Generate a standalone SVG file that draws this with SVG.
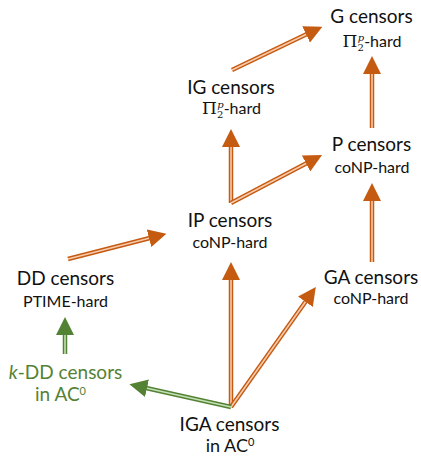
<svg xmlns="http://www.w3.org/2000/svg" width="421" height="456" viewBox="0 0 421 456">
<style>
text{font-family:Lato,"Open Sans","Liberation Sans",sans-serif;fill:#111;text-anchor:middle}
.t{font-size:19px}
.s{font-size:16px}
.g{fill:#548235}
.math{font-family:"DejaVu Serif","Liberation Serif",serif}
.o1{stroke:#C55A11;stroke-width:4.5;fill:none}
.o2{stroke:#F8CBAD;stroke-width:1.6;fill:none}
.g1{stroke:#548235;stroke-width:4.5;fill:none}
.g2{stroke:#C5E0B4;stroke-width:1.6;fill:none}
</style>
<defs>
<marker id="ao" markerUnits="userSpaceOnUse" markerWidth="18" markerHeight="18" viewBox="0 0 18 18" refX="1" refY="9" orient="auto"><path d="M0,0 L18,9 L0,18 Z" fill="#C55A11"/></marker>
<marker id="ag" markerUnits="userSpaceOnUse" markerWidth="18" markerHeight="18" viewBox="0 0 18 18" refX="1" refY="9" orient="auto"><path d="M0,0 L18,9 L0,18 Z" fill="#548235"/></marker>
</defs>
<g id="connectors">
<g id="e-iga-ip"><path class="o1" d="M231,407 L231,279"/><path class="o2" d="M231,407 L231,279" marker-end="url(#ao)"/></g>
<g id="e-iga-ga"><path class="o1" d="M231,407 L306,301"/><path class="o2" d="M231,407 L306,301" marker-end="url(#ao)"/></g>
<g id="e-iga-kdd"><path class="g1" d="M231,407 L146,388"/><path class="g2" d="M231,407 L146,388" marker-end="url(#ag)"/></g>
<g id="e-kdd-dd"><path class="g1" d="M65,354 L65,334"/><path class="g2" d="M65,354 L65,334" marker-end="url(#ag)"/></g>
<g id="e-dd-ip"><path class="o1" d="M68,259 L150,238"/><path class="o2" d="M68,259 L150,238" marker-end="url(#ao)"/></g>
<g id="e-ip-ig"><path class="o1" d="M231,203 L231,146"/><path class="o2" d="M231,203 L231,146" marker-end="url(#ao)"/></g>
<g id="e-ip-p"><path class="o1" d="M231,203 L307,163"/><path class="o2" d="M231,203 L307,163" marker-end="url(#ao)"/></g>
<g id="e-ig-g"><path class="o1" d="M232,70 L307,34"/><path class="o2" d="M232,70 L307,34" marker-end="url(#ao)"/></g>
<g id="e-ga-p"><path class="o1" d="M372,262 L372,200"/><path class="o2" d="M372,262 L372,200" marker-end="url(#ao)"/></g>
<g id="e-p-g"><path class="o1" d="M372,128 L372,73"/><path class="o2" d="M372,128 L372,73" marker-end="url(#ao)"/></g>
</g>
<g id="G"><text class="t" x="371.5" y="23">G censors</text>
<text class="s" x="372" y="47"><tspan class="math" font-size="17">Π</tspan><tspan font-size="10" class="math" dy="4">2</tspan><tspan font-size="10" class="math" font-style="italic" dx="-6" dy="-10">p</tspan><tspan dy="6">-hard</tspan></text></g>
<g id="IG"><text class="t" x="231" y="94">IG censors</text>
<text class="s" x="231.5" y="114"><tspan class="math" font-size="17">Π</tspan><tspan font-size="10" class="math" dy="4">2</tspan><tspan font-size="10" class="math" font-style="italic" dx="-6" dy="-10">p</tspan><tspan dy="6">-hard</tspan></text></g>
<g id="P"><text class="t" x="371.5" y="151">P censors</text><text class="s" x="372" y="173">coNP-hard</text></g>
<g id="IP"><text class="t" x="230" y="227">IP censors</text><text class="s" x="230" y="248">coNP-hard</text></g>
<g id="DD"><text class="t" x="65.5" y="285">DD censors</text><text class="s" x="65.5" y="307">PTIME-hard</text></g>
<g id="GA"><text class="t" x="371" y="284">GA censors</text><text class="s" x="371" y="304">coNP-hard</text></g>
<g id="kDD"><text class="t g" x="65.5" y="379"><tspan font-style="italic">k</tspan>-DD censors</text><text class="t g" x="60.5" y="401" font-size="18">in AC<tspan font-size="11" dy="-6">0</tspan></text></g>
<g id="IGA"><text class="t" x="229.5" y="431">IGA censors</text><text class="t" x="230" y="452" style="font-size:18px">in AC<tspan font-size="11" dy="-6">0</tspan></text></g>
</svg>
